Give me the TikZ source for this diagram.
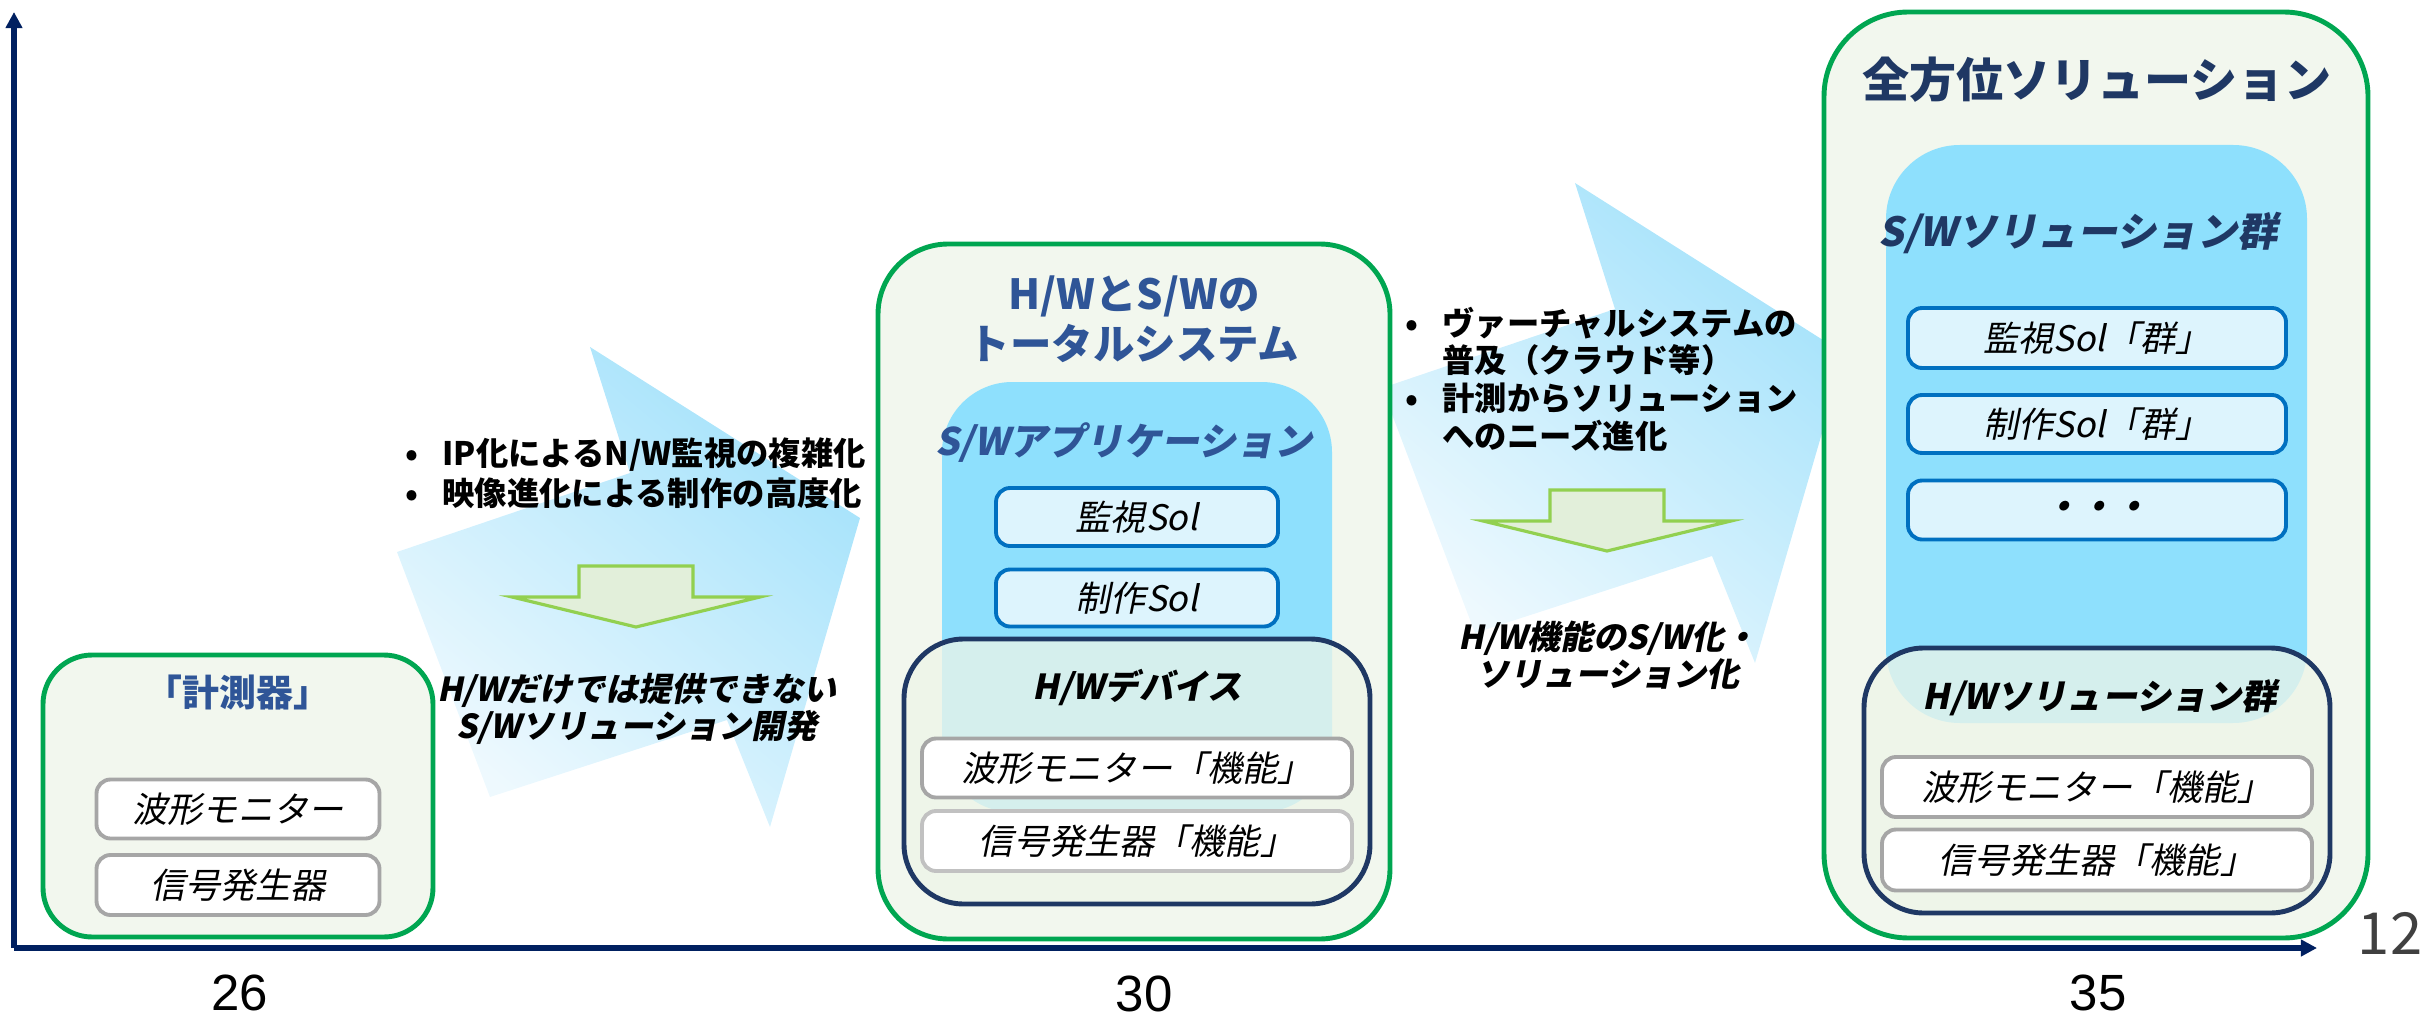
\documentclass[tikz,border=0pt]{standalone}
\usepackage{fontspec}
\setmainfont{Noto Sans CJK JP}
\newfontfamily\slantjp{Noto Sans CJK JP}[FakeSlant=0.2]
\newfontfamily\numfont{Liberation Sans}
\usetikzlibrary{arrows.meta}

\definecolor{axisnavy}{HTML}{002060}
\definecolor{boxgreen}{HTML}{00A651}
\definecolor{boxfill}{HTML}{F2F7EE}
\definecolor{swblue}{HTML}{8EE0FD}
\definecolor{solborder}{HTML}{0070C0}
\definecolor{solfill}{HTML}{DDF4FD}
\definecolor{hwnavy}{HTML}{1F3864}
\definecolor{hwfill}{HTML}{EDF5E8}
\definecolor{itemgray}{HTML}{A6A6A6}
\definecolor{titleblue}{HTML}{2F5597}
\definecolor{titlenavy}{HTML}{1F3864}
\definecolor{arrowtop}{HTML}{A4E2FB}
\definecolor{arrowbot}{HTML}{EEF9FE}
\definecolor{downfill}{HTML}{E2EFDA}
\definecolor{downline}{HTML}{92D050}
\definecolor{numgray}{HTML}{404040}

\tikzset{
  outerbox/.style={draw=boxgreen, fill=boxfill, line width=1.4pt},
  swarea/.style={fill=swblue},
  hwarea/.style={draw=hwnavy, fill=hwfill, fill opacity=0.75, line width=1.4pt},
  graybox/.style={draw=itemgray, fill=white, line width=1.1pt, rounded corners=4pt,
    inner sep=0pt, font={\slantjp\fontsize{10}{12}\selectfont}},
  solbox/.style={draw=solborder, fill=solfill, line width=1.1pt, rounded corners=4pt,
    inner sep=0pt, font={\slantjp\fontsize{10}{12}\selectfont}},
  bigarrow/.style={top color=arrowtop, bottom color=arrowbot, shading angle=-40},
  downarrow/.style={draw=downline, fill=downfill, line width=0.9pt},
  axisline/.style={draw=axisnavy, line width=1.5pt, -{Triangle[width=4.6pt,length=4.6pt]}},
  drivertext/.style={anchor=west, align=left, inner sep=0pt,
    font={\bfseries\fontsize{9.2}{11}\selectfont}},
  resulttext/.style={align=center, inner sep=0pt,
    font={\slantjp\bfseries\fontsize{9.4}{10.6}\selectfont}},
  ticklabel/.style={inner sep=0pt, font={\numfont\fontsize{14.5}{17}\selectfont}}
}
\newcommand{\bul}{\makebox[10.5pt][l]{•}}
\newcommand{\ind}{\hspace*{10.5pt}}

\begin{document}
\begin{tikzpicture}[x=0.1mm, y=-0.1mm]
\useasboundingbox (0,0) rectangle (2425,1024);

\shade[bigarrow] (397,552) -- (630,473) -- (590,347) -- (860,518) -- (770,827) -- (727,720) -- (490,797) -- cycle;
\shade[bigarrow] (1382,388) -- (1615,309) -- (1575,183) -- (1845,354) -- (1755,663) -- (1712,556) -- (1475,633) -- cycle;

\filldraw[downarrow] (579,566) -- (693,566) -- (693,597) -- (760,597) -- (636,627) -- (512,597) -- (579,597) -- cycle;
\filldraw[downarrow] (1550,490) -- (1664,490) -- (1664,521) -- (1731,521) -- (1607,551) -- (1483,521) -- (1550,521) -- cycle;

\node (drv1) at (405,473) [drivertext, font={\bfseries\fontsize{9.2}{11.4}\selectfont}]
  {\bul IP化によるN/W監視の複雑化\\\bul 映像進化による制作の高度化};
\node (res1) at (637,709) [resulttext] {H/Wだけでは提供できない\\S/Wソリューション開発};

\node (drv2) at (1405,379) [drivertext, font={\bfseries\fontsize{9.2}{10.7}\selectfont}]
  {\bul ヴァーチャルシステムの\\\ind 普及（クラウド等）\\\bul 計測からソリューション\\\ind へのニーズ進化};
\node (res2) at (1608,655) [resulttext] {H/W機能のS/W化・\\ソリューション化};

\filldraw[outerbox, rounded corners=14pt] (43,655) rectangle (433,937);
\node (measT) at (238,693) [text=titleblue, font={\bfseries\fontsize{10.5}{12}\selectfont}] {「計測器」};
\node (measA) at (238,809) [graybox, minimum width=2.83cm, minimum height=0.59cm] {波形モニター};
\node (measB) at (238,885) [graybox, minimum width=2.83cm, minimum height=0.60cm] {信号発生器};

\filldraw[outerbox, rounded corners=20pt] (878,244) rectangle (1390,939);
\fill[swarea, rounded corners=20pt] (942,382) rectangle (1332,812);
\node (totT) at (1134,319) [align=center, text=titleblue, font={\bfseries\fontsize{11.8}{14.2}\selectfont}] {H/WとS/Wの\\トータルシステム};
\node (appT) at (1124,443) [text=titleblue, font={\slantjp\bfseries\fontsize{10.8}{12}\selectfont}] {S/Wアプリケーション};
\node (appA) at (1137,517) [solbox, minimum width=2.82cm, minimum height=0.58cm] {監視Sol};
\node (appB) at (1137,598) [solbox, minimum width=2.82cm, minimum height=0.57cm] {制作Sol};
\filldraw[hwarea, rounded corners=17pt] (904,639) rectangle (1370,904);
\node (devT) at (1137,688) [font={\slantjp\bfseries\fontsize{9.8}{11}\selectfont}] {H/Wデバイス};
\node (devA) at (1137,768) [graybox, minimum width=4.3cm, minimum height=0.59cm] {波形モニター「機能」};
\node (devB) at (1137,841) [graybox, draw=itemgray!70, minimum width=4.3cm, minimum height=0.60cm] {信号発生器「機能」};

\filldraw[outerbox, rounded corners=24pt] (1824,12) rectangle (2368,938);
\node (allT) at (2097,80) [text=titlenavy, font={\bfseries\fontsize{13.4}{15}\selectfont}] {全方位ソリューション};
\fill[swarea, rounded corners=21pt] (1886,145) rectangle (2307,723);
\node (solT) at (2078,233) [text=titlenavy, font={\slantjp\bfseries\fontsize{11.4}{13}\selectfont}] {S/Wソリューション群};
\node (solA) at (2097,338) [solbox, minimum width=3.78cm, minimum height=0.60cm] {監視Sol「群」};
\node (solB) at (2097,424) [solbox, minimum width=3.78cm, minimum height=0.58cm] {制作Sol「群」};
\node (solC) at (2097,510) [solbox, minimum width=3.78cm, minimum height=0.59cm, font={\slantjp\bfseries\fontsize{10}{12}\selectfont}] {・・・};
\filldraw[hwarea, rounded corners=17pt] (1864,648) rectangle (2330,913);
\node (hwT) at (2100,698) [font={\slantjp\bfseries\fontsize{10}{12}\selectfont}] {H/Wソリューション群};
\node (hwA) at (2097,787) [graybox, minimum width=4.3cm, minimum height=0.60cm] {波形モニター「機能」};
\node (hwB) at (2097,860) [graybox, minimum width=4.3cm, minimum height=0.61cm] {信号発生器「機能」};

\coordinate (origin) at (14,948);
\coordinate (ytop) at (14,12);
\coordinate (xend) at (2317,948);
\draw[axisline] (origin) -- (ytop);
\draw[axisline] (origin) -- (xend);

\node (t26) at (240,993) [ticklabel] {26};
\node (t30) at (1144,994) [ticklabel] {30};
\node (t35) at (2098,993) [ticklabel] {35};
\node (page) at (2390,933) [inner sep=0pt, text=numgray, font={\fontsize{16.5}{18}\selectfont}] {12};

\end{tikzpicture}
\end{document}
